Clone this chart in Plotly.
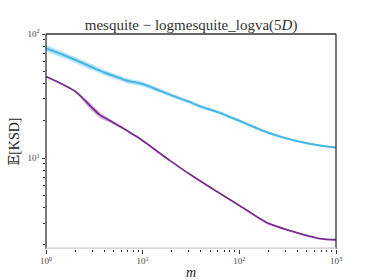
import plotly.graph_objects as go

# ---- data ----
m_blue = [1, 1.5, 2, 3, 4, 5, 7, 10, 15, 20, 30, 40, 60, 100, 150, 200, 300, 500, 700, 1000]
blue_mean = [77, 68, 62, 54, 49, 46, 42, 39.5, 35, 32, 28.5, 26, 23.5, 20, 17.5, 16, 14.5, 13.2, 12.6, 12.2]
blue_lo = [72, 64, 58.5, 51, 46.5, 43.8, 40, 37.8, 33.6, 30.8, 27.5, 25.1, 22.8, 19.4, 17.0, 15.6, 14.2, 13.0, 12.4, 12.0]
blue_hi = [82, 72, 65.5, 57, 51.5, 48.3, 44, 41.2, 36.4, 33.2, 29.5, 26.9, 24.2, 20.6, 18.0, 16.4, 14.8, 13.4, 12.8, 12.4]

m_purple = [1, 2, 2.85, 3.6, 4.6, 7.4, 9.4, 19.2, 30.8, 49.7, 101, 190, 390, 676, 1000]
purple_mean = [45.4, 34.5, 26.5, 22.3, 20.0, 16.1, 14.3, 9.55, 7.4, 5.82, 4.14, 3.04, 2.51, 2.25, 2.2]
purple_lo = [45.0, 34.0, 24.9, 21.0, 19.3, 15.8, 14.1, 9.48, 7.36, 5.79, 4.12, 3.03, 2.50, 2.24, 2.19]
purple_hi = [45.8, 35.0, 28.1, 23.5, 20.7, 16.4, 14.5, 9.62, 7.44, 5.85, 4.16, 3.05, 2.52, 2.26, 2.21]

x_tickvals = [1, 10, 100, 1000]
x_ticktext = ["10<sup>0</sup>", "10<sup>1</sup>", "10<sup>2</sup>", "10<sup>3</sup>"]
y_tickvals = [10, 100]
y_ticktext = ["10<sup>1</sup>", "10<sup>2</sup>"]

x_minor = [k * 10 ** e for e in range(0, 3) for k in range(2, 10)]
y_minor = [k * 10 ** e for e in range(0, 2) for k in range(2, 10)]

BLUE = "#46b6e6"
PURPLE = "#7b2b8f"
SERIF = "Liberation Serif, DejaVu Serif, serif"

fig = go.Figure()

# blue band + line
fig.add_trace(go.Scatter(x=m_blue, y=blue_hi, mode="lines", line=dict(width=0, shape="spline", smoothing=0.8),
                         showlegend=False, hoverinfo="skip"))
fig.add_trace(go.Scatter(x=m_blue, y=blue_lo, mode="lines", line=dict(width=0, shape="spline", smoothing=0.8),
                         fill="tonexty", fillcolor="rgba(70,182,230,0.35)", showlegend=False, hoverinfo="skip"))
fig.add_trace(go.Scatter(x=m_blue, y=blue_mean, mode="lines",
                         line=dict(color=BLUE, width=2, shape="spline", smoothing=0.8), showlegend=False))

# purple band + line
fig.add_trace(go.Scatter(x=m_purple, y=purple_hi, mode="lines", line=dict(width=0, shape="spline", smoothing=0.8),
                         showlegend=False, hoverinfo="skip"))
fig.add_trace(go.Scatter(x=m_purple, y=purple_lo, mode="lines", line=dict(width=0, shape="spline", smoothing=0.8),
                         fill="tonexty", fillcolor="rgba(123,43,143,0.3)", showlegend=False, hoverinfo="skip"))
fig.add_trace(go.Scatter(x=m_purple, y=purple_mean, mode="lines",
                         line=dict(color=PURPLE, width=1.8, shape="spline", smoothing=0.8), showlegend=False))

axis_common = dict(
    type="log", showgrid=False, zeroline=False, showline=False, automargin=False,
    ticks="outside", ticklen=3.5, tickwidth=1, tickcolor="#333",
    tickfont=dict(family=SERIF, size=9, color="#444"),
)

fig.update_xaxes(
    **axis_common, range=[0, 3],
    tickvals=x_tickvals, ticktext=x_ticktext,
    minor=dict(tickvals=x_minor, ticks="outside", ticklen=2, tickcolor="#333"),
    title=dict(text="<i>m</i>", font=dict(family=SERIF, size=14, color="#222"), standoff=2),
)
fig.update_yaxes(
    **axis_common, range=[0.268, 2.0],
    tickvals=y_tickvals, ticktext=y_ticktext,
    minor=dict(tickvals=y_minor, ticks="outside", ticklen=2, tickcolor="#333"),
    title=dict(text="𝔼[KSD]", font=dict(family=SERIF, size=14, color="#222"), standoff=4),
)

# frame (spines)
frame = [
    dict(x0=0, x1=0, y0=0, y1=1, color="#333"),
    dict(x0=1, x1=1, y0=0, y1=1, color="#333"),
    dict(x0=0, x1=1, y0=1, y1=1, color="#333"),
    dict(x0=0, x1=1, y0=0.004, y1=0.004, color="#c8c8c8"),
]
for f in frame:
    fig.add_shape(type="line", xref="paper", yref="paper", x0=f["x0"], x1=f["x1"], y0=f["y0"], y1=f["y1"],
                  line=dict(color=f["color"], width=1.3), layer="above")

fig.update_layout(
    width=374, height=280,
    margin=dict(l=46, r=38, t=34, b=31, autoexpand=False),
    paper_bgcolor="white", plot_bgcolor="white",
    title=dict(text="mesquite − logmesquite_logva(5<i>D</i>)", x=0.511, xanchor="center", y=0.91, yanchor="middle",
               font=dict(family=SERIF, size=15, color="#333")),
)

fig.write_html("out.html", config={"displayModeBar": False},
               post_script="document.body.style.margin='0';document.body.style.padding='0';")
